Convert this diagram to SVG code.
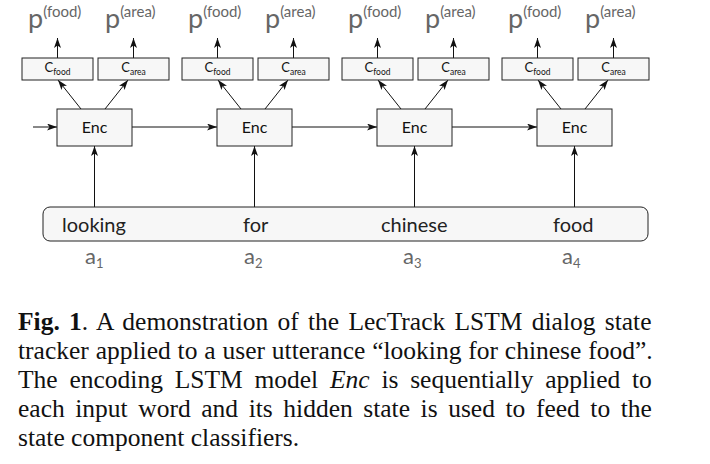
<svg xmlns="http://www.w3.org/2000/svg" width="710" height="464" viewBox="0 0 710 464">
<style>
.box{fill:#f7f7f7;stroke:#222;stroke-width:1}
.enc{font-family:Lato,"Open Sans",sans-serif;font-size:16px;fill:#111;text-anchor:middle}
.cl{font-family:Lato,"Open Sans",sans-serif;font-size:13px;fill:#111;text-anchor:middle}
.cl tspan.s{font-size:8.5px}
.p{font-family:Lato,"Open Sans",sans-serif;font-size:27px;fill:#666}
.p tspan.s{font-size:15px}
.w{font-family:Lato,"Open Sans",sans-serif;font-size:20px;fill:#222}
.a{font-family:Lato,"Open Sans",sans-serif;font-size:22px;fill:#666}
.a tspan.s{font-size:13px}
.ln{stroke:#111;stroke-width:1;fill:none;marker-end:url(#ah)}
.cap{font-family:"Liberation Serif","Times New Roman",serif;font-size:25.5px;fill:#111}
</style>
<defs>
<marker id="ah" markerWidth="11" markerHeight="8" refX="10" refY="3.5" orient="auto" markerUnits="userSpaceOnUse">
<path d="M0,0 L10,3.5 L0,7 L2.5,3.5 z" fill="#111"/>
</marker>
</defs>
<g id="connectors">
<line class="ln" x1="33" y1="127" x2="57" y2="127"/>
<line class="ln" x1="132" y1="127" x2="217" y2="127"/>
<line class="ln" x1="292" y1="127" x2="377" y2="127"/>
<line class="ln" x1="452" y1="127" x2="537" y2="127"/>
<line class="ln" x1="94.5" y1="207" x2="94.5" y2="146"/>
<line class="ln" x1="254.5" y1="207" x2="254.5" y2="146"/>
<line class="ln" x1="414.5" y1="207" x2="414.5" y2="146"/>
<line class="ln" x1="574.5" y1="207" x2="574.5" y2="146"/>
<line class="ln" x1="81" y1="109" x2="58" y2="80"/>
<line class="ln" x1="105" y1="109" x2="128" y2="80"/>
<line class="ln" x1="241" y1="109" x2="218" y2="80"/>
<line class="ln" x1="265" y1="109" x2="288" y2="80"/>
<line class="ln" x1="401" y1="109" x2="378" y2="80"/>
<line class="ln" x1="425" y1="109" x2="448" y2="80"/>
<line class="ln" x1="561" y1="109" x2="538" y2="80"/>
<line class="ln" x1="585" y1="109" x2="608" y2="80"/>
<line class="ln" x1="57.5" y1="58" x2="57.5" y2="38"/>
<line class="ln" x1="133.5" y1="58" x2="133.5" y2="38"/>
<line class="ln" x1="217.5" y1="58" x2="217.5" y2="38"/>
<line class="ln" x1="293.5" y1="58" x2="293.5" y2="38"/>
<line class="ln" x1="377.5" y1="58" x2="377.5" y2="38"/>
<line class="ln" x1="453.5" y1="58" x2="453.5" y2="38"/>
<line class="ln" x1="537.5" y1="58" x2="537.5" y2="38"/>
<line class="ln" x1="613.5" y1="58" x2="613.5" y2="38"/>
</g>
<g id="enc1"><rect class="box" x="57" y="109" width="75" height="37"/><text class="enc" x="94.5" y="133">Enc</text></g>
<g id="enc2"><rect class="box" x="217" y="109" width="75" height="37"/><text class="enc" x="254.5" y="133">Enc</text></g>
<g id="enc3"><rect class="box" x="377" y="109" width="75" height="37"/><text class="enc" x="414.5" y="133">Enc</text></g>
<g id="enc4"><rect class="box" x="537" y="109" width="75" height="37"/><text class="enc" x="574.5" y="133">Enc</text></g>
<g id="cfood1"><rect class="box" x="22" y="58" width="71" height="22"/><text class="cl" x="57.5" y="72">C<tspan class="s" dy="3">food</tspan></text></g>
<g id="carea1"><rect class="box" x="98" y="58" width="71" height="22"/><text class="cl" x="133.5" y="72">C<tspan class="s" dy="3">area</tspan></text></g>
<g id="cfood2"><rect class="box" x="182" y="58" width="71" height="22"/><text class="cl" x="217.5" y="72">C<tspan class="s" dy="3">food</tspan></text></g>
<g id="carea2"><rect class="box" x="258" y="58" width="71" height="22"/><text class="cl" x="293.5" y="72">C<tspan class="s" dy="3">area</tspan></text></g>
<g id="cfood3"><rect class="box" x="342" y="58" width="71" height="22"/><text class="cl" x="377.5" y="72">C<tspan class="s" dy="3">food</tspan></text></g>
<g id="carea3"><rect class="box" x="418" y="58" width="71" height="22"/><text class="cl" x="453.5" y="72">C<tspan class="s" dy="3">area</tspan></text></g>
<g id="cfood4"><rect class="box" x="502" y="58" width="71" height="22"/><text class="cl" x="537.5" y="72">C<tspan class="s" dy="3">food</tspan></text></g>
<g id="carea4"><rect class="box" x="578" y="58" width="71" height="22"/><text class="cl" x="613.5" y="72">C<tspan class="s" dy="3">area</tspan></text></g>
<g id="pfood1"><text class="p" x="28" y="28">p<tspan class="s" dy="-11">(food)</tspan></text></g>
<g id="parea1"><text class="p" x="105" y="28">p<tspan class="s" dy="-11">(area)</tspan></text></g>
<g id="pfood2"><text class="p" x="188" y="28">p<tspan class="s" dy="-11">(food)</tspan></text></g>
<g id="parea2"><text class="p" x="265" y="28">p<tspan class="s" dy="-11">(area)</tspan></text></g>
<g id="pfood3"><text class="p" x="348" y="28">p<tspan class="s" dy="-11">(food)</tspan></text></g>
<g id="parea3"><text class="p" x="425" y="28">p<tspan class="s" dy="-11">(area)</tspan></text></g>
<g id="pfood4"><text class="p" x="508" y="28">p<tspan class="s" dy="-11">(food)</tspan></text></g>
<g id="parea4"><text class="p" x="585" y="28">p<tspan class="s" dy="-11">(area)</tspan></text></g>
<g id="input">
<rect x="43" y="207" width="605" height="34" rx="7" fill="#f7f7f7" stroke="#222" stroke-width="1"/>
<text class="w" x="62" y="232">looking</text>
<text class="w" x="243" y="232">for</text>
<text class="w" x="381" y="232">chinese</text>
<text class="w" x="553" y="232">food</text>
</g>
<g id="a1"><text class="a" x="85" y="264">a<tspan class="s" dy="4">1</tspan></text></g>
<g id="a2"><text class="a" x="244" y="264">a<tspan class="s" dy="4">2</tspan></text></g>
<g id="a3"><text class="a" x="403" y="264">a<tspan class="s" dy="4">3</tspan></text></g>
<g id="a4"><text class="a" x="562" y="264">a<tspan class="s" dy="4">4</tspan></text></g>
<g id="caption">
<text class="cap" x="18" y="330" word-spacing="2.9"><tspan font-weight="bold">Fig. 1</tspan>. A demonstration of the LecTrack LSTM dialog state</text>
<text class="cap" x="18" y="359" word-spacing="0.5">tracker applied to a user utterance “looking for chinese food”.</text>
<text class="cap" x="18" y="388" word-spacing="5.4">The encoding LSTM model <tspan font-style="italic">Enc</tspan> is sequentially applied to</text>
<text class="cap" x="18" y="417" word-spacing="4.2">each input word and its hidden state is used to feed to the</text>
<text class="cap" x="18" y="446">state component classifiers.</text>
</g>
</svg>
